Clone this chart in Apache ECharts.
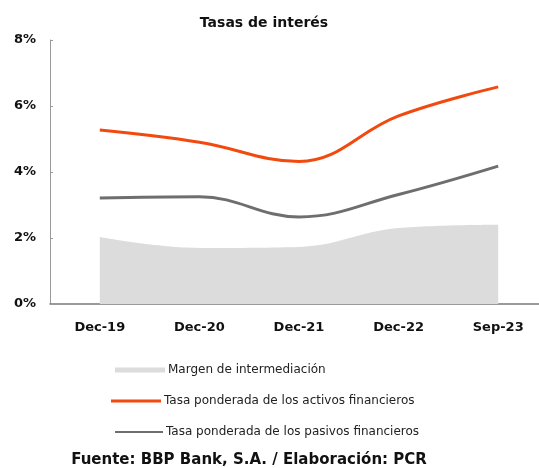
<!DOCTYPE html>
<html>
<head>
<meta charset="utf-8">
<script src="https://cdn.jsdelivr.net/npm/echarts@6/dist/echarts.min.js"></script>
<style>
  html, body { margin: 0; padding: 0; background: #fff; }
  #chart { width: 539px; height: 468px; }
</style>
</head>
<body>
<div id="chart"></div>
<script>
// datos (en %)
const categories = ['Dec-19', 'Dec-20', 'Dec-21', 'Dec-22', 'Sep-23']
const margen = [2.03, 1.70, 1.73, 2.30, 2.40]
const activos = [5.27, 4.90, 4.32, 5.70, 6.58]
const pasivos = [3.21, 3.25, 2.64, 3.32, 4.18]
const yTicks = [0, 2, 4, 6, 8]

const font = 'DejaVu Sans, Liberation Sans, sans-serif'
const chart = echarts.init(document.getElementById('chart'))

const legendBase = {
  orient: 'horizontal',
  icon: 'rect',
  itemWidth: 50,
  itemHeight: 3,
  itemGap: 4,
  textStyle: { fontFamily: font, fontSize: 12, color: '#222', padding: [0, 0, 0, -2] }
}

chart.setOption({
  animation: false,
  title: [
    {
      text: 'Tasas de interés',
      left: 259,
      textAlign: 'center',
      top: 11,
      textStyle: { fontFamily: font, fontSize: 14, fontWeight: 'bold', color: '#111' }
    },
    {
      text: 'Fuente: BBP Bank, S.A. / Elaboración: PCR',
      left: 244,
      textAlign: 'center',
      top: 448,
      textStyle: { fontFamily: font, fontSize: 15, fontWeight: 'bold', color: '#111' }
    }
  ],
  legend: [
    Object.assign({}, legendBase, { data: ['Margen de intermediación'], left: 110, top: 359, itemHeight: 5 }),
    Object.assign({}, legendBase, { data: ['Tasa ponderada de los activos financieros'], left: 106, top: 390 }),
    Object.assign({}, legendBase, { data: ['Tasa ponderada de los pasivos financieros'], left: 110, top: 421, itemWidth: 48, itemHeight: 2 })
  ],
  grid: { left: 50, top: 40, width: 498, height: 264, outerBoundsMode: 'none' },
  xAxis: {
    type: 'category',
    data: categories,
    boundaryGap: true,
    axisLine: { lineStyle: { color: '#7a7a7a', width: 1.5 } },
    axisTick: { show: false },
    axisLabel: { fontFamily: font, fontSize: 13, fontWeight: 'bold', color: '#111', margin: 17 }
  },
  yAxis: {
    type: 'value',
    min: yTicks[0],
    max: yTicks[yTicks.length - 1],
    interval: 2,
    splitLine: { show: false },
    axisLine: { show: true, lineStyle: { color: '#9a9a9a' } },
    axisTick: { show: true, inside: true, length: 3, lineStyle: { color: '#9a9a9a' } },
    axisLabel: {
      fontFamily: font, fontSize: 13, fontWeight: 'bold', color: '#111', margin: 14,
      formatter: v => v + '%'
    }
  },
  series: [
    {
      name: 'Margen de intermediación',
      type: 'line',
      data: margen,
      smooth: 0.4,
      showSymbol: false,
      itemStyle: { color: '#dcdcdc' },
      lineStyle: { width: 0 },
      areaStyle: { color: '#dcdcdc', opacity: 1 }
    },
    {
      name: 'Tasa ponderada de los activos financieros',
      type: 'line',
      data: activos,
      smooth: 0.4,
      showSymbol: false,
      itemStyle: { color: '#f2490f' },
      lineStyle: { width: 3, color: '#f2490f' }
    },
    {
      name: 'Tasa ponderada de los pasivos financieros',
      type: 'line',
      data: pasivos,
      smooth: 0.4,
      showSymbol: false,
      itemStyle: { color: '#6e6e6e' },
      lineStyle: { width: 3, color: '#6e6e6e' }
    }
  ]
})
</script>
</body>
</html>
